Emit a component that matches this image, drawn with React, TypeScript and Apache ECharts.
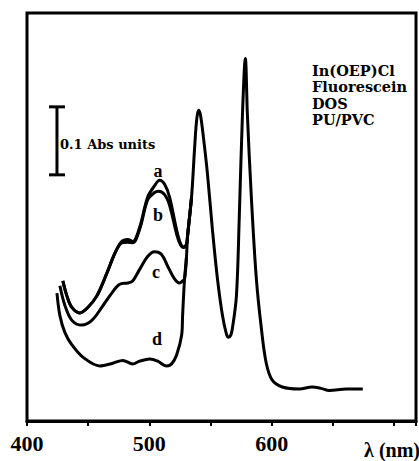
import React, { useEffect, useRef } from "react";
import * as echarts from "echarts";

// x tick labels shown on the wavelength axis
const xTickLabels = ["400", "500", "600"];

// curve a (fluorescein-rich film), wavelength nm -> absorbance
const curveA: [number, number][] = [
  [429.3, 0.206], [432.6, 0.184], [436.7, 0.167], [443.2, 0.159], [449.7, 0.167],
  [457.1, 0.184], [465.2, 0.217], [471.7, 0.246], [477.4, 0.264], [482.3, 0.267],
  [486.4, 0.264], [492.1, 0.285], [498.6, 0.329], [504.3, 0.346], [508.4, 0.354],
  [512.5, 0.348], [516.6, 0.329], [522.3, 0.281], [525.5, 0.261], [528.0, 0.256],
  [530.4, 0.260], [531.2, 0.271], [534.5, 0.329],
];

// curve b
const curveB: [number, number][] = [
  [429.3, 0.206], [432.6, 0.184], [436.7, 0.167], [443.2, 0.159], [449.7, 0.167],
  [457.1, 0.184], [465.2, 0.217], [471.7, 0.246], [477.4, 0.262], [482.3, 0.263],
  [486.4, 0.262], [492.1, 0.282], [498.6, 0.325], [504.3, 0.336], [507.6, 0.338],
  [512.5, 0.333], [516.6, 0.317], [522.3, 0.275], [525.5, 0.259], [528.0, 0.255],
  [530.4, 0.260], [531.2, 0.271], [534.5, 0.329],
];

// curve c
const curveC: [number, number][] = [
  [426.9, 0.199], [431.0, 0.170], [436.7, 0.148], [444.8, 0.141], [453.0, 0.148],
  [461.1, 0.167], [469.3, 0.188], [475.8, 0.201], [482.3, 0.203], [486.4, 0.206],
  [492.1, 0.223], [498.6, 0.242], [504.3, 0.249], [510.0, 0.245], [514.9, 0.228],
  [520.6, 0.209], [524.7, 0.203], [527.2, 0.206], [528.8, 0.209], [530.4, 0.242],
];

// curve d, short-wavelength part
const curveD: [number, number][] = [
  [424.5, 0.188], [426.9, 0.155], [431.0, 0.130], [436.7, 0.112], [445.6, 0.094],
  [459.5, 0.081], [470.1, 0.085], [478.3, 0.089], [486.4, 0.084], [492.1, 0.088],
  [500.3, 0.091], [506.8, 0.088], [514.1, 0.081], [518.2, 0.084], [522.3, 0.097],
  [526.4, 0.126],
];

// common In(OEP)Cl bands (shared by all spectra)
const peakBands: [number, number][] = [
  [527.2, 0.155], [528.0, 0.184], [528.8, 0.209], [530.4, 0.242], [531.2, 0.271],
  [534.5, 0.329], [537.0, 0.401], [538.6, 0.441], [540.2, 0.457], [541.8, 0.450],
  [544.3, 0.416], [547.6, 0.362], [551.6, 0.281], [555.7, 0.209], [559.8, 0.155],
  [563.0, 0.128], [564.7, 0.123], [566.5, 0.126], [567.9, 0.136], [571.2, 0.184],
  [573.6, 0.304], [576.1, 0.449], [578.5, 0.533], [580.2, 0.449], [583.4, 0.329],
  [587.5, 0.209], [591.6, 0.136], [595.6, 0.085], [600.5, 0.060], [608.7, 0.050],
  [622.5, 0.047], [633.1, 0.050], [640.5, 0.048], [647.0, 0.045], [660.9, 0.047],
  [674.5, 0.047],
];

// scale bar: 0.1 absorbance units
const scaleBarX = 424.5;
const scaleBarY: [number, number] = [0.362, 0.462];

const curveLabels = ["a", "b", "c", "d"];
const legendLines = ["In(OEP)Cl", "Fluorescein", "DOS", "PU/PVC"];

export default function App() {
  const ref = useRef<HTMLDivElement>(null);
  useEffect(() => {
    const chart = echarts.init(ref.current!, null, { renderer: "svg" });
    const lineStyle = { color: "#000", width: 3 };
    const mk = (name: string, data: [number, number][]) => ({
      name,
      type: "line",
      data,
      showSymbol: false,
      symbol: "none",
      smooth: 0.35,
      lineStyle,
      z: 3,
    });
    const labelPos = [
      [158, 171],
      [158, 215],
      [156, 272],
      [157, 339],
    ];
    const serifBold = { fontFamily: "Liberation Serif", fontWeight: "bold" };
    chart.setOption({
      animation: false,
      backgroundColor: "#fff",
      grid: {
        left: 27,
        right: 2,
        top: 13,
        bottom: 40,
        show: true,
        borderColor: "#000",
        borderWidth: 3,
        backgroundColor: "transparent",
      },
      xAxis: {
        type: "value",
        min: 400,
        max: 718,
        interval: 50,
        axisLine: { show: true, onZero: false, lineStyle: { color: "#000", width: 3 } },
        axisTick: { show: true, inside: false, length: 5, lineStyle: { color: "#000", width: 2 } },
        splitLine: { show: false },
        axisLabel: {
          color: "#000",
          fontSize: 22,
          ...serifBold,
          margin: 11,
          formatter: (v: number) => (xTickLabels.includes(String(v)) ? String(v) : ""),
        },
      },
      yAxis: { type: "value", min: 0, max: 0.6, show: false },
      series: [
        mk("d", [...curveD, ...peakBands]),
        mk("c", curveC),
        mk("b", curveB),
        mk("a", curveA),
        {
          name: "scale",
          type: "line",
          data: [
            [scaleBarX, scaleBarY[0]],
            [scaleBarX, scaleBarY[1]],
          ],
          symbol: "rect",
          symbolSize: [16, 3],
          showSymbol: true,
          itemStyle: { color: "#000" },
          lineStyle: { color: "#000", width: 3 },
        },
      ],
      graphic: [
        ...curveLabels.map((t, i) => ({
          type: "text",
          x: labelPos[i][0],
          y: labelPos[i][1],
          style: { text: t, fill: "#000", fontSize: 18, ...serifBold, align: "center", verticalAlign: "middle" },
        })),
        {
          type: "text",
          x: 60,
          y: 144,
          style: {
            text: "0.1 Abs units",
            fill: "#000",
            fontSize: 13,
            fontFamily: "DejaVu Serif",
            fontWeight: "bold",
            align: "left",
            verticalAlign: "middle",
          },
        },
        ...legendLines.map((t, i) => ({
          type: "text",
          x: 312,
          y: 70 + i * 16.5,
          style: {
            text: t,
            fill: "#000",
            fontSize: 14.5,
            fontFamily: "DejaVu Serif",
            fontWeight: "bold",
            align: "left",
            verticalAlign: "middle",
          },
        })),
        {
          type: "text",
          x: 420,
          y: 450,
          style: { text: "λ (nm)", fill: "#000", fontSize: 20, ...serifBold, align: "right", verticalAlign: "middle" },
        },
      ],
    });
    return () => chart.dispose();
  }, []);
  return <div ref={ref} style={{ position: "fixed", left: 0, top: 0, width: 419, height: 461 }} />;
}
